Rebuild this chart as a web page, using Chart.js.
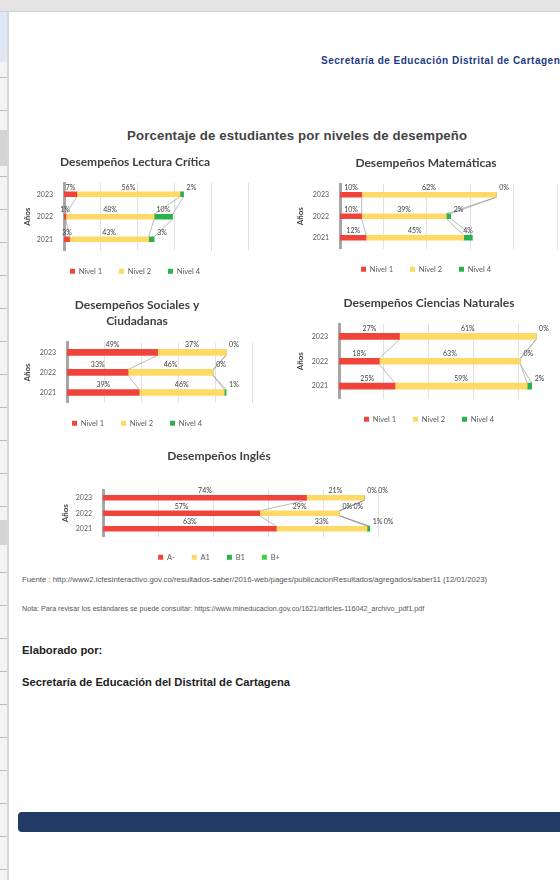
<!DOCTYPE html>
<html lang="es">
<head>
<meta charset="utf-8">
<script src="https://cdn.jsdelivr.net/npm/chart.js@4.4.1/dist/chart.umd.min.js"></script>
<style>
  html, body { margin: 0; padding: 0; }
  body { width: 560px; height: 880px; overflow: hidden; position: relative; background: #fff; font-family: 'Liberation Sans', Arial, sans-serif; }
  .abs { position: absolute; }
  .topbar { left: 0; top: 0; width: 560px; height: 11px; background: #e4e4e4; border-bottom: 1px solid #d2d2d2; }
  .side { left: 0; top: 12px; width: 7px; height: 868px; background: #f4f4f4 repeating-linear-gradient(to bottom, transparent 0 32px, #bdbdbd 32px 33px); border-right: 2px solid #d8d8d8; }
  .txt { white-space: nowrap; }
  canvas { position: absolute; }
</style>
</head>
<body>
<div class="abs topbar"></div>
<div class="abs side"></div>
<div class="abs" style="left:0;top:12px;width:7px;height:50px;background:#dfe6f4"></div>
<div class="abs" style="left:0;top:130px;width:7px;height:36px;background:#d4d4d4"></div>
<div class="abs" style="left:0;top:520px;width:7px;height:25px;background:#d4d4d4"></div>

<div class="abs txt" style="left:321px;top:55px;font-size:10px;letter-spacing:0.5px;font-weight:bold;color:#1f3a85">Secretaría de Educación Distrital de Cartagena</div>
<div class="abs txt" style="left:127px;top:128px;font-size:13.2px;letter-spacing:0.15px;font-weight:bold;color:#444">Porcentaje de estudiantes por niveles de desempeño</div>

<canvas id="cLectura"></canvas>
<canvas id="cMat"></canvas>
<canvas id="cSoc"></canvas>
<canvas id="cCien"></canvas>
<canvas id="cIng"></canvas>

<div class="abs txt" style="left:22px;top:575px;font-size:7.8px;color:#555">Fuente : http://www2.icfesinteractivo.gov.co/resultados-saber/2016-web/pages/publicacionResultados/agregados/saber11 (12/01/2023)</div>
<div class="abs txt" style="left:22px;top:605px;font-size:7.15px;color:#555">Nota: Para revisar los estándares se puede consultar: https://www.mineducacion.gov.co/1621/articles-116042_archivo_pdf1.pdf</div>
<div class="abs txt" style="left:22px;top:644px;font-size:11.3px;font-weight:bold;color:#222">Elaborado por:</div>
<div class="abs txt" style="left:22px;top:676px;font-size:11.2px;font-weight:bold;color:#222">Secretaría de Educación del Distrital de Cartagena</div>
<div class="abs" style="left:18px;top:812px;width:560px;height:20px;background:#213a66;border-radius:4px"></div>

<script>
const years = ['2023', '2022', '2021'];
const xTicks = [0, 20, 40, 60, 80, 100];

const lecturaN1 = [7, 1, 3];
const lecturaN2 = [56, 48, 43];
const lecturaN4 = [2, 10, 3];

const matN1 = [10, 10, 12];
const matN2 = [62, 39, 45];
const matN4 = [0, 2, 4];

const socN1 = [49, 33, 39];
const socN2 = [37, 46, 46];
const socN4 = [0, 0, 1];

const cienN1 = [27, 18, 25];
const cienN2 = [61, 63, 59];
const cienN4 = [0, 0, 2];

const ingAm = [74, 57, 63];
const ingA1 = [21, 29, 33];
const ingB1 = [0, 0, 1];
const ingBp = [0, 0, 0];

const RED = '#f0443b', YEL = '#ffd966', GRN = '#2bb24c', LGRN = '#3fd43a';

// excel style "series lines" between the bars
const seriesLines = {
    id: 'seriesLines',
    beforeDatasetsDraw(chart) {
        const ctx = chart.ctx;
        ctx.save();
        ctx.strokeStyle = '#8c8c8c';
        ctx.lineWidth = 0.6;
        chart.data.datasets.forEach((ds, di) => {
            const bars = chart.getDatasetMeta(di).data;
            for (let i = 0; i < bars.length - 1; i++) {
                const a = bars[i], b = bars[i + 1];
                ctx.beginPath();
                ctx.moveTo(a.x, a.y + a.height / 2);
                ctx.lineTo(b.x, b.y - b.height / 2);
                ctx.stroke();
            }
        });
        ctx.restore();
    }
};

const pctLabels = {
    id: 'pctLabels',
    afterDatasetsDraw(chart) {
        const ctx = chart.ctx;
        ctx.save();
        ctx.font = '7px Lato';
        ctx.fillStyle = '#404040';
        ctx.textBaseline = 'bottom';
        const shift = {};
        chart.data.datasets.forEach((ds, di) => {
            chart.getDatasetMeta(di).data.forEach((bar, i) => {
                const w = bar.x - bar.base;
                let tx;
                if (di > 0 && w < 6) {
                    shift[i] = (shift[i] || 0);
                    tx = bar.x + 3 + shift[i];
                    shift[i] += 11;
                    ctx.textAlign = 'left';
                } else {
                    tx = (bar.x + bar.base) / 2;
                    ctx.textAlign = 'center';
                }
                ctx.fillText(ds.data[i] + '%', tx, bar.y - bar.height / 2 - 1);
            });
        });
        ctx.restore();
    }
};

function makeChart(id, o) {
    const cv = document.getElementById(id);
    cv.width = o.w; cv.height = o.h;
    cv.style.left = o.left + 'px'; cv.style.top = o.top + 'px';
    return new Chart(cv, {
        type: 'bar',
        data: { labels: years, datasets: o.datasets },
        plugins: [seriesLines, pctLabels],
        options: {
            indexAxis: 'y',
            responsive: false,
            animation: false,
            devicePixelRatio: 1,
            layout: { padding: { top: 0, left: 0, right: o.padRight, bottom: o.padBottom } },
            datasets: { bar: { barThickness: o.bar || 5 } },
            scales: {
                x: {
                    stacked: true, min: 0, max: 100,
                    afterBuildTicks: s => { s.ticks = xTicks.map(v => ({ value: v })); },
                    afterFit: s => { s.height = 0; },
                    ticks: { display: false },
                    grid: { color: '#d9d9d9', drawTicks: false, lineWidth: 0.8 },
                    border: { display: false }
                },
                y: {
                    stacked: true,
                    afterFit: s => { s.width = o.axisW; },
                    grid: { display: false },
                    border: { color: '#a6a6a6', width: 3 },
                    ticks: { color: '#595959', font: { family: 'Lato', size: 7 }, padding: 3 },
                    title: { display: true, text: 'Años', color: '#404040', font: { family: 'Lato', size: 8, weight: 'bold' }, padding: 1 }
                }
            },
            plugins: {
                title: {
                    display: true, text: o.title, color: '#404040',
                    font: { family: 'Lato', size: 12, weight: 'bold', lineHeight: o.lh || 1.25 },
                    padding: { top: o.titleTop, bottom: o.titleBottom }
                },
                legend: {
                    position: 'bottom',
                    labels: {
                        usePointStyle: true, pointStyle: 'rect', boxWidth: 5, boxHeight: 5,
                        padding: 17, color: '#595959', font: { family: 'Lato', size: 7.5 }
                    }
                },
                tooltip: { enabled: false }
            }
        }
    });
}

function niveles(n1, n2, n4) {
    return [
        { label: 'Nivel 1', data: n1, backgroundColor: RED },
        { label: 'Nivel 2', data: n2, backgroundColor: YEL },
        { label: 'Nivel 4', data: n4, backgroundColor: GRN }
    ];
}

makeChart('cLectura', { left: 22, top: 150, w: 230, h: 135, axisW: 42, padRight: 4, padBottom: 0,
    title: 'Desempeños Lectura Crítica', titleTop: 5, titleBottom: 13, datasets: niveles(lecturaN1, lecturaN2, lecturaN4) });
makeChart('cMat', { left: 295, top: 150, w: 265, h: 135, axisW: 45, padRight: 3, padBottom: 2,
    title: 'Desempeños Matemáticas', titleTop: 6, titleBottom: 13, datasets: niveles(matN1, matN2, matN4) });
makeChart('cSoc', { left: 22, top: 290, w: 240, h: 147, axisW: 45, padRight: 10, padBottom: 0, lh: 1.35,
    title: ['Desempeños Sociales y', 'Ciudadanas'], titleTop: 7, titleBottom: 13, bar: 6, datasets: niveles(socN1, socN2, socN4) });
makeChart('cCien', { left: 295, top: 290, w: 275, h: 145, axisW: 44, padRight: 7, padBottom: 2,
    title: 'Desempeños Ciencias Naturales', titleTop: 6, titleBottom: 13, bar: 6, datasets: niveles(cienN1, cienN2, cienN4) });
makeChart('cIng', { left: 60, top: 440, w: 340, h: 131, axisW: 43, padRight: 22, padBottom: 0,
    title: 'Desempeños Inglés', titleTop: 9, titleBottom: 26, datasets: [
        { label: 'A-', data: ingAm, backgroundColor: RED },
        { label: 'A1', data: ingA1, backgroundColor: YEL },
        { label: 'B1', data: ingB1, backgroundColor: GRN },
        { label: 'B+', data: ingBp, backgroundColor: LGRN }
    ] });
</script>
</body>
</html>
